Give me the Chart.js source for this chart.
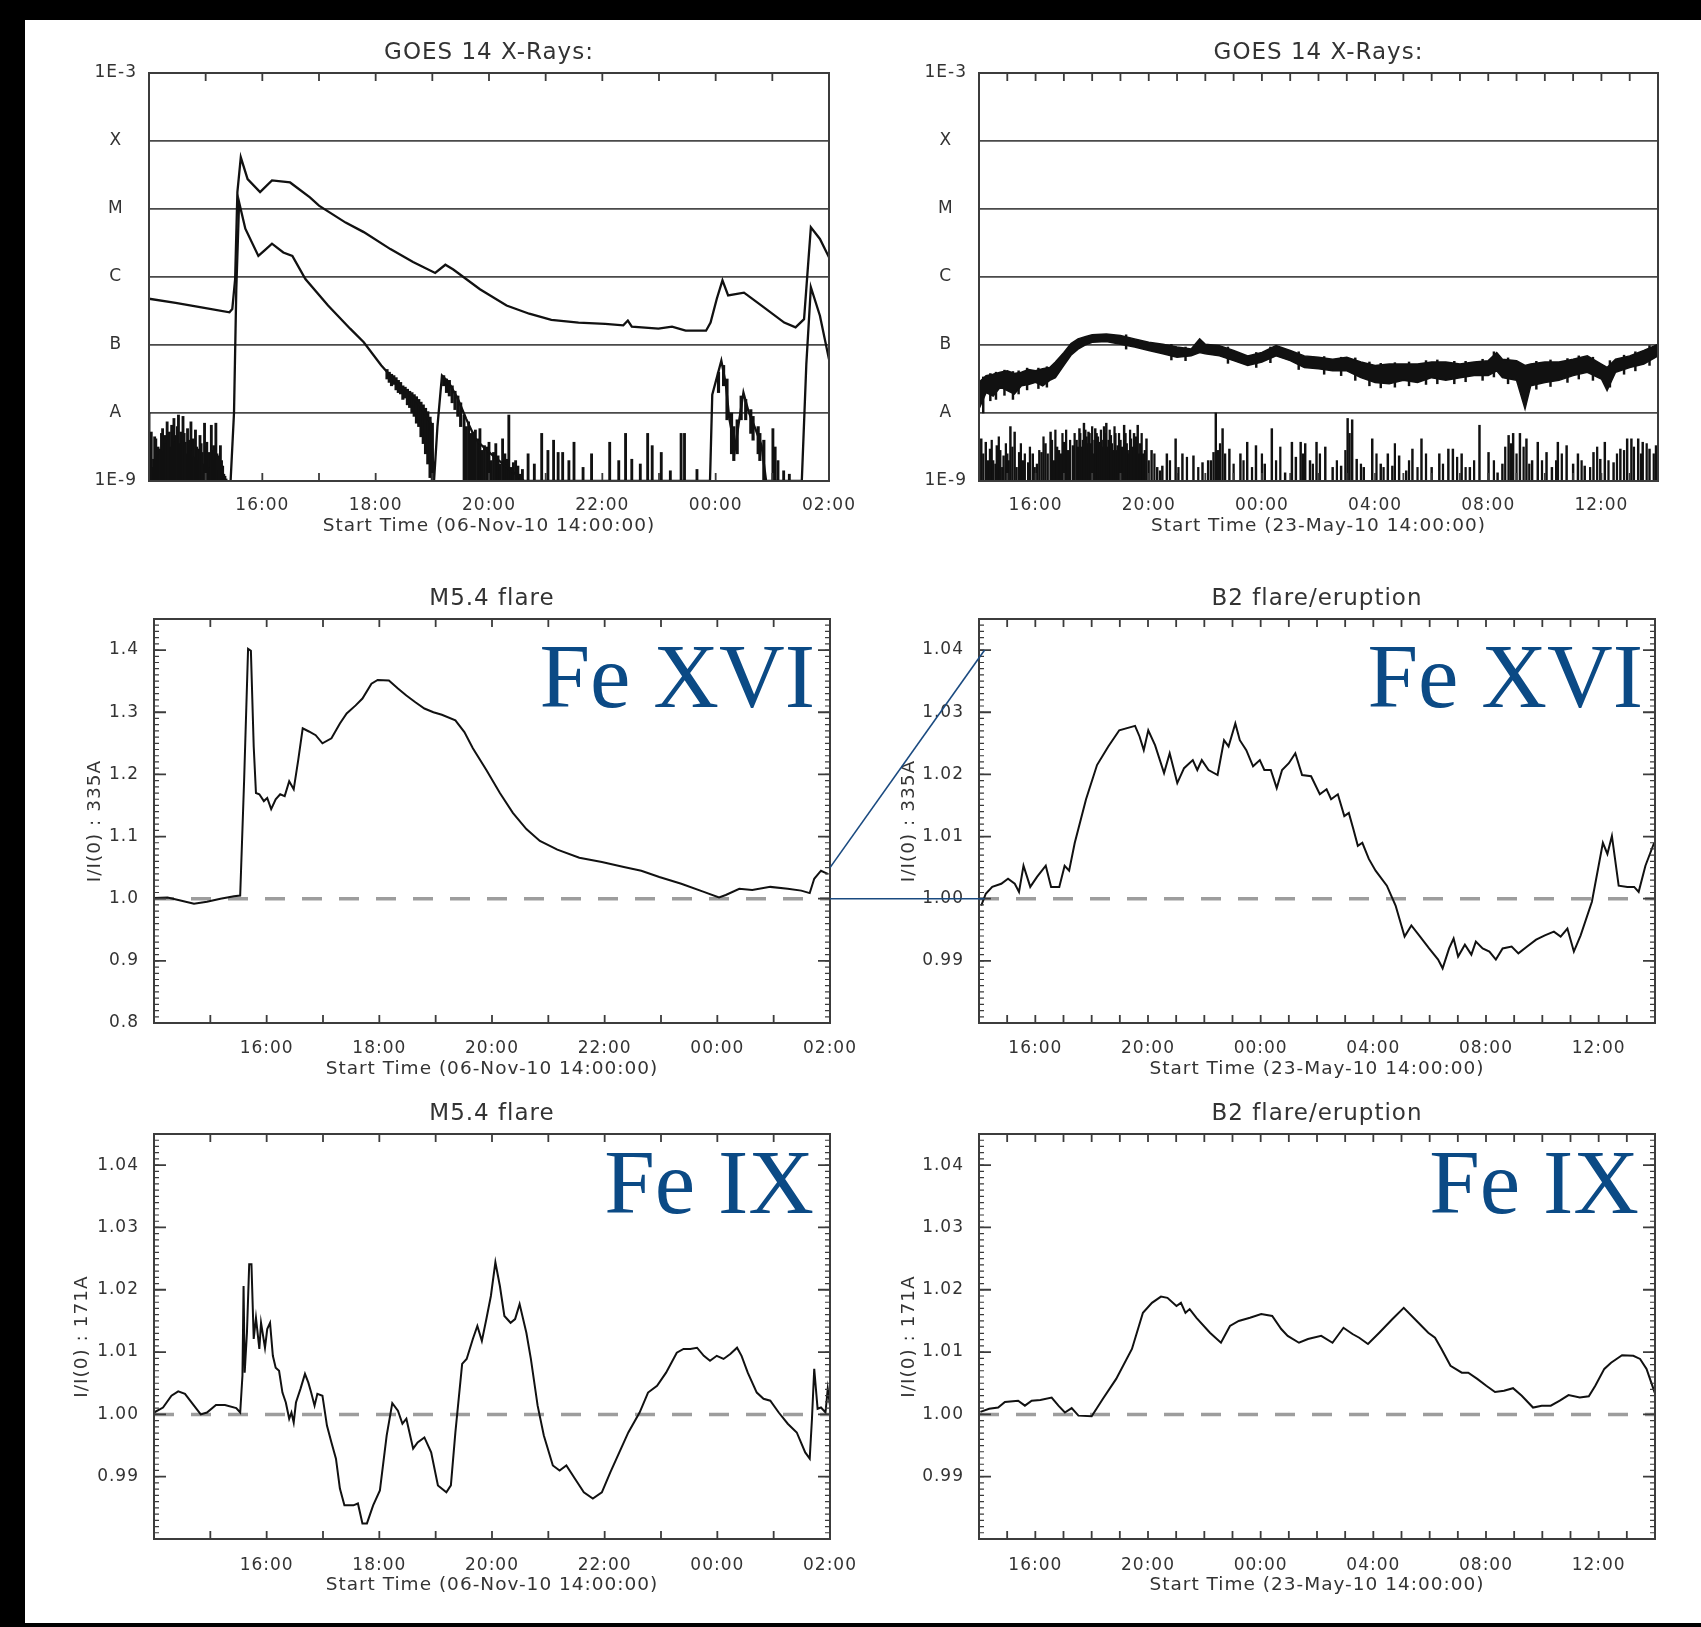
<!DOCTYPE html>
<html>
<head>
<meta charset="utf-8">
<script src="https://cdn.jsdelivr.net/npm/chart.js@4.4.1/dist/chart.umd.min.js"></script>
<style>
  html, body { margin: 0; padding: 0; background: #000; }
  body { width: 1701px; height: 1627px; position: relative; overflow: hidden; }
  #sheet { position: absolute; left: 25px; top: 20px; width: 1676px; height: 1603px; background: #fff; }
  canvas { position: absolute; }
  #links { position: absolute; left: 0; top: 0; width: 1701px; height: 1627px; pointer-events: none; }
</style>
</head>
<body>
<div id="sheet"></div>
<canvas id="goesNov"></canvas>
<canvas id="goesMay"></canvas>
<canvas id="fe16Nov"></canvas>
<canvas id="fe16May"></canvas>
<canvas id="fe9Nov"></canvas>
<canvas id="fe9May"></canvas>
<svg id="links"></svg>
<script>
// axis ticks / labels
const novTickHours = [2, 4, 6, 8, 10, 12];
const novTickLabels = ['16:00', '18:00', '20:00', '22:00', '00:00', '02:00'];
const mayTickHours = [2, 6, 10, 14, 18, 22];
const mayTickLabels = ['16:00', '20:00', '00:00', '04:00', '08:00', '12:00'];
const goesLevels = [-9, -8, -7, -6, -5, -4, -3];
const goesLabels = ['1E-9', 'A', 'B', 'C', 'M', 'X', '1E-3'];
const wideTicks = [0.8, 0.9, 1.0, 1.1, 1.2, 1.3, 1.4];
const wideLabels = ['0.8', '0.9', '1.0', '1.1', '1.2', '1.3', '1.4'];
const narrowTicks = [0.99, 1.00, 1.01, 1.02, 1.03, 1.04];
const narrowLabels = ['0.99', '1.00', '1.01', '1.02', '1.03', '1.04'];

// GOES 06-Nov-10, hours after 14:00, log10 flux (W/m2)
const novLongT = [0, 0.47, 0.95, 1.42, 1.47, 1.52, 1.56, 1.62, 1.74, 1.96, 2.17, 2.49, 2.84, 3.00, 3.47, 3.79, 4.26, 4.66, 5.05, 5.23, 5.37, 5.84, 6.31, 6.71, 7.10, 7.58, 8.05, 8.37, 8.45, 8.52, 8.99, 9.23, 9.47, 9.83, 9.91, 10.02, 10.12, 10.22, 10.50, 10.81, 11.21, 11.41, 11.56, 11.68, 11.84, 12.00];
const novLongV = [-6.32, -6.38, -6.45, -6.52, -6.47, -6.03, -4.75, -4.24, -4.56, -4.75, -4.58, -4.61, -4.83, -4.95, -5.20, -5.34, -5.59, -5.78, -5.94, -5.82, -5.89, -6.18, -6.42, -6.54, -6.63, -6.67, -6.69, -6.71, -6.64, -6.73, -6.76, -6.73, -6.79, -6.79, -6.67, -6.32, -6.05, -6.27, -6.23, -6.42, -6.67, -6.74, -6.62, -5.27, -5.44, -5.71];
const novShortT = [1.44, 1.50, 1.54, 1.59, 1.70, 1.93, 2.05, 2.17, 2.37, 2.53, 2.76, 3.16, 3.55, 3.79, 4.10, 4.42, 4.74, 4.97, 5.03, 5.09, 5.17, 5.29, 5.45, 5.60, 5.76, 5.90, 6.10, 6.40, 6.62, 9.90, 9.94, 10.10, 10.18, 10.24, 10.34, 10.42, 10.49, 10.58, 10.70, 10.81, 10.89, 11.52, 11.60, 11.68, 11.84, 12.00];
const novShortV = [-9.0, -8.0, -6.2, -4.90, -5.29, -5.69, -5.60, -5.51, -5.64, -5.69, -6.03, -6.42, -6.76, -6.96, -7.30, -7.60, -7.84, -8.14, -9.0, -8.2, -7.45, -7.55, -7.79, -8.09, -8.38, -8.50, -8.65, -8.85, -9.0, -9.0, -7.73, -7.23, -7.58, -8.08, -8.53, -8.08, -7.70, -7.98, -8.23, -8.48, -9.0, -9.0, -7.28, -6.15, -6.57, -7.21];
// short channel noise: spikes up from the 1E-9 floor
const novSpikeT = [0.00, 0.02, 0.04, 0.06, 0.08, 0.10, 0.12, 0.14, 0.16, 0.18, 0.20, 0.22, 0.24, 0.26, 0.28, 0.30, 0.32, 0.34, 0.36, 0.38, 0.40, 0.42, 0.44, 0.46, 0.48, 0.50, 0.52, 0.54, 0.56, 0.58, 0.60, 0.62, 0.64, 0.66, 0.68, 0.70, 0.72, 0.74, 0.76, 0.78, 0.80, 0.82, 0.84, 0.86, 0.88, 0.90, 0.92, 0.94, 0.96, 0.98, 1.00, 1.02, 1.04, 1.06, 1.08, 1.10, 1.12, 1.14, 1.16, 1.18, 1.20, 1.22, 1.24, 1.26, 1.28, 1.30, 1.32, 1.34, 1.36,
  5.56, 5.60, 5.64, 5.68, 5.72, 5.76, 5.80, 5.84, 5.88, 5.92, 5.96, 6.00, 6.04, 6.08, 6.12, 6.16, 6.20, 6.24, 6.28, 6.31, 6.35, 6.39, 6.43, 6.47, 6.51, 6.55, 6.59,
  6.69, 6.80, 6.93, 7.04, 7.14, 7.22, 7.30, 7.41, 7.50, 7.66, 7.81, 8.13, 8.29, 8.41, 8.52, 8.67, 8.80, 8.88, 9.04, 9.20, 9.39, 9.45, 9.67,
  11.01, 11.05, 11.10, 11.20, 11.30];
const novSpikeTop = [-8.00, -8.45, -8.28, -8.80, -8.68, -8.35, -8.38, -8.70, -8.50, -8.62, -8.53, -8.30, -8.23, -8.55, -8.33, -8.45, -8.13, -8.40, -8.28, -8.50, -8.18, -8.35, -8.08, -8.42, -8.33, -8.20, -8.03, -8.45, -8.28, -8.38, -8.05, -8.30, -8.43, -8.60, -8.23, -8.40, -8.48, -8.13, -8.55, -8.38, -8.65, -8.25, -8.50, -8.53, -8.70, -8.33, -8.45, -8.58, -8.75, -8.15, -8.50, -8.43, -8.65, -8.58, -8.80, -8.18, -8.55, -8.48, -8.70, -8.15, -8.60, -8.63, -8.85, -8.48, -8.70, -8.78, -8.90, -8.93, -8.97,
  -8.03, -8.20, -8.13, -8.30, -8.28, -8.25, -8.38, -8.23, -8.55, -8.48, -8.50, -8.43, -8.70, -8.58, -8.45, -8.63, -8.75, -8.38, -8.60, -8.68, -8.03, -8.80, -8.73, -8.70, -8.78, -8.90, -8.83,
  -8.60, -8.75, -8.30, -8.55, -8.40, -8.58, -8.58, -8.70, -8.43, -8.80, -8.60, -8.43, -8.70, -8.30, -8.68, -8.75, -8.30, -8.48, -8.58, -8.85, -8.30, -8.30, -8.83,
  -8.23, -8.50, -8.70, -8.85, -8.90];
// short channel jitter around the decaying parts (min / max per sample)
const novFuzzT = [4.20, 4.24, 4.28, 4.32, 4.36, 4.40, 4.44, 4.48, 4.52, 4.56, 4.60, 4.64, 4.68, 4.72, 4.76, 4.80, 4.84, 4.88, 4.92, 4.96, 5.00,
  5.20, 5.25, 5.30, 5.35, 5.40, 5.45, 5.50,
  10.05, 10.14, 10.20, 10.28, 10.32, 10.38, 10.45, 10.53, 10.62, 10.66, 10.75, 10.78, 10.85];
const novFuzzLo = [-7.50, -7.55, -7.60, -7.58, -7.66, -7.70, -7.72, -7.80, -7.78, -7.88, -7.92, -8.00, -8.05, -8.15, -8.20, -8.35, -8.45, -8.60, -8.75, -8.95, -9.0,
  -7.60, -7.70, -7.75, -7.85, -7.95, -8.05, -8.20,
  -7.70, -7.60, -8.10, -8.60, -8.70, -8.60, -8.10, -8.10, -8.30, -8.40, -8.60, -8.70, -9.0];
const novFuzzHi = [-7.36, -7.40, -7.43, -7.45, -7.48, -7.52, -7.55, -7.60, -7.62, -7.65, -7.68, -7.70, -7.73, -7.76, -7.80, -7.84, -7.88, -7.93, -7.98, -8.06, -8.15,
  -7.45, -7.50, -7.52, -7.60, -7.68, -7.75, -7.85,
  -7.40, -7.30, -7.50, -8.00, -8.20, -8.10, -7.75, -7.80, -7.95, -8.05, -8.20, -8.30, -8.40];

// GOES 23-May-10, hours after 14:00, log10 flux
const mayLongT = [0, 0.25, 0.5, 0.75, 1.0, 1.25, 1.5, 1.75, 2.0, 2.25, 2.5, 2.7, 3.0, 3.25, 3.5, 3.75, 4.0, 4.5, 5.0, 5.5, 6.0, 6.5, 7.0, 7.5, 7.8, 8.0, 8.5, 9.0, 9.5, 10.0, 10.5, 11.0, 11.5, 12.0, 12.5, 13.0, 13.5, 14.0, 14.5, 15.0, 15.5, 16.0, 16.5, 17.0, 17.5, 18.0, 18.3, 18.5, 19.0, 19.3, 19.5, 20.0, 20.5, 21.0, 21.5, 22.0, 22.2, 22.5, 23.0, 23.5, 24.0];
const mayLongHi = [-7.55, -7.45, -7.43, -7.40, -7.38, -7.42, -7.40, -7.36, -7.38, -7.35, -7.33, -7.25, -7.11, -6.98, -6.91, -6.88, -6.85, -6.84, -6.86, -6.91, -6.96, -6.99, -7.03, -7.06, -6.91, -6.99, -7.01, -7.08, -7.16, -7.11, -7.01, -7.08, -7.16, -7.18, -7.21, -7.18, -7.25, -7.30, -7.28, -7.28, -7.28, -7.25, -7.25, -7.28, -7.25, -7.23, -7.11, -7.21, -7.23, -7.30, -7.28, -7.25, -7.25, -7.21, -7.16, -7.28, -7.33, -7.21, -7.16, -7.08, -6.99];
const mayLongLo = [-7.94, -7.70, -7.75, -7.62, -7.67, -7.72, -7.60, -7.58, -7.55, -7.60, -7.52, -7.48, -7.30, -7.15, -7.06, -7.00, -6.96, -6.95, -6.99, -7.03, -7.08, -7.13, -7.18, -7.16, -7.11, -7.13, -7.16, -7.23, -7.30, -7.25, -7.16, -7.23, -7.33, -7.35, -7.38, -7.38, -7.48, -7.55, -7.57, -7.52, -7.55, -7.48, -7.52, -7.48, -7.45, -7.45, -7.38, -7.48, -7.52, -7.94, -7.60, -7.55, -7.52, -7.45, -7.40, -7.50, -7.67, -7.40, -7.33, -7.28, -7.16];
// long channel excursions just outside the band
const mayJitT = [0.15, 0.40, 0.60, 0.90, 1.20, 1.40, 1.70, 2.10, 2.40, 5.20, 6.80, 7.30, 8.80, 9.80, 10.30, 11.30, 12.20, 12.80, 13.30, 13.80, 14.20, 14.70, 15.20, 15.80, 16.20, 16.80, 17.20, 17.80, 18.20, 18.70, 19.70, 20.20, 20.80, 21.20, 21.70, 22.30, 22.80, 23.20, 23.70];
const mayJitLo = [-8.00, -7.82, -7.80, -7.74, -7.80, -7.72, -7.66, -7.64, -7.62, -7.06, -7.22, -7.23, -7.27, -7.33, -7.26, -7.36, -7.43, -7.45, -7.52, -7.60, -7.63, -7.62, -7.60, -7.58, -7.57, -7.57, -7.54, -7.52, -7.47, -7.57, -7.65, -7.61, -7.55, -7.50, -7.52, -7.62, -7.43, -7.38, -7.30];
const mayJitHi = [-7.47, -7.42, -7.40, -7.37, -7.39, -7.38, -7.34, -7.34, -7.32, -6.85, -6.99, -7.03, -7.03, -7.11, -7.03, -7.10, -7.17, -7.18, -7.19, -7.25, -7.27, -7.26, -7.25, -7.23, -7.22, -7.24, -7.24, -7.21, -7.10, -7.19, -7.24, -7.22, -7.20, -7.16, -7.18, -7.23, -7.15, -7.10, -7.01];
const maySpikeT = [0.08, 0.24, 0.39, 0.50, 0.63, 0.75, 0.87, 1.00, 1.11, 1.26, 1.42, 1.55, 1.74, 1.90, 2.05, 2.21, 2.35, 2.53, 2.65, 2.76, 2.90, 3.00, 3.15, 3.32, 3.45, 3.55, 3.62, 3.71, 3.80, 3.87, 3.95, 4.05, 4.11, 4.20, 4.27, 4.35, 4.42, 4.50, 4.58, 4.66, 4.75, 4.82, 4.90, 5.00, 5.13, 5.22, 5.30, 5.37, 5.48, 5.61, 5.70, 5.80, 5.92, 6.10, 6.30, 6.48, 6.64, 6.95, 7.19, 7.58, 7.90, 8.10, 8.29, 8.37, 8.45, 8.61, 8.85, 9.24, 9.48, 9.79, 10.10, 10.35, 10.82, 11.06, 11.20, 11.37, 11.53, 11.70, 11.93, 12.24, 12.50, 12.80, 13.03, 13.19, 13.35, 13.60, 13.90, 14.20, 14.45, 14.61, 14.85, 15.10, 15.32, 15.64, 16.00, 16.27, 16.59, 16.75, 17.06, 17.35, 17.69, 18.01, 18.33, 18.50, 18.72, 18.88, 19.12, 19.35, 19.55, 19.75, 20.06, 20.25, 20.46, 20.77, 21.00, 21.17, 21.41, 21.72, 21.96, 22.12, 22.43, 22.67, 22.91, 23.06, 23.30, 23.46, 23.70, 23.93];
const maySpikeTop = [-8.38, -8.43, -8.53, -8.70, -8.48, -8.55, -8.63, -8.60, -8.20, -8.28, -8.58, -8.70, -8.73, -8.60, -8.75, -8.58, -8.45, -8.28, -8.70, -8.50, -8.60, -8.43, -8.55, -8.48, -8.40, -8.23, -8.50, -8.15, -8.35, -8.28, -8.45, -8.60, -8.23, -8.35, -8.43, -8.50, -8.20, -8.15, -8.40, -8.33, -8.55, -8.30, -8.48, -8.40, -8.18, -8.45, -8.60, -8.38, -8.30, -8.18, -8.45, -8.60, -8.38, -8.55, -8.80, -8.78, -8.60, -8.38, -8.60, -8.63, -8.73, -8.70, -8.58, -8.00, -8.55, -8.23, -8.53, -8.60, -8.43, -8.48, -8.75, -8.23, -8.88, -8.43, -8.65, -8.43, -8.45, -8.70, -8.43, -8.50, -8.80, -8.78, -8.08, -8.10, -8.68, -8.80, -8.38, -8.75, -8.60, -8.78, -8.63, -8.85, -8.53, -8.38, -8.80, -8.60, -8.53, -8.53, -8.60, -8.80, -8.18, -8.58, -8.88, -8.75, -8.33, -8.30, -8.30, -8.38, -8.70, -8.43, -8.58, -8.80, -8.43, -8.48, -8.75, -8.60, -8.78, -8.58, -8.68, -8.43, -8.73, -8.53, -8.38, -8.38, -8.38, -8.43, -8.53, -8.48];
const maySpike2T = [0.15, 0.32, 0.45, 0.58, 0.70, 0.82, 0.95, 1.05, 1.18, 1.33,
  1.48, 1.62, 1.80, 1.97, 2.13, 2.28, 2.43, 2.58, 2.70, 2.83,
  2.95, 3.08, 3.22, 3.38, 3.50, 3.58, 3.67, 3.76, 3.84, 3.91,
  4.00, 4.08, 4.16, 4.24, 4.31, 4.39, 4.46, 4.54, 4.62, 4.70,
  4.79, 4.86, 4.95, 5.05, 5.18, 5.26, 5.34, 5.43, 5.55, 5.66,
  5.75, 5.86, 6.00, 6.20, 6.40, 6.75, 7.05, 7.35, 7.75, 8.20,
  8.52, 8.70, 9.00, 9.35, 9.65, 10.00, 10.50, 10.65, 11.45, 11.80,
  12.05, 12.65, 12.95, 13.10, 13.50, 14.05, 14.30, 14.70, 15.20, 15.50,
  15.80, 16.40, 16.90, 17.20, 17.50, 18.20, 18.60, 18.80, 19.00, 19.25,
  19.45, 19.90, 20.40, 20.60, 21.30, 21.60, 21.85, 22.25, 22.55, 22.80,
  23.15, 23.40, 23.60, 23.85];
const maySpike2Top = [-8.60, -8.70, -8.40, -8.75, -8.35, -8.80, -8.45, -8.70, -8.50, -8.80,
  -8.45, -8.60, -8.50, -8.80, -8.55, -8.35, -8.60, -8.40, -8.25, -8.55,
  -8.30, -8.25, -8.40, -8.30, -8.50, -8.30, -8.40, -8.25, -8.45, -8.30,
  -8.20, -8.40, -8.30, -8.55, -8.25, -8.40, -8.30, -8.50, -8.25, -8.45,
  -8.20, -8.55, -8.30, -8.50, -8.30, -8.55, -8.25, -8.50, -8.35, -8.60,
  -8.30, -8.55, -8.70, -8.60, -8.85, -8.70, -8.80, -8.65, -8.80, -8.70,
  -8.45, -8.60, -8.75, -8.70, -8.80, -8.60, -8.70, -8.50, -8.60, -8.75,
  -8.60, -8.70, -8.55, -8.30, -8.75, -8.60, -8.80, -8.45, -8.70, -8.80,
  -8.60, -8.75, -8.65, -8.80, -8.70, -8.70, -8.50, -8.45, -8.60, -8.50,
  -8.75, -8.70, -8.70, -8.60, -8.70, -8.80, -8.50, -8.70, -8.60, -8.55,
  -8.50, -8.60, -8.45, -8.60];

// AIA 335A (Fe XVI), I/I(0)
const fe16NovT = [0.00, 0.24, 0.47, 0.71, 0.94, 1.18, 1.42, 1.53, 1.60, 1.67, 1.72, 1.77, 1.81, 1.87, 1.95, 2.01, 2.08, 2.16, 2.24, 2.32, 2.40, 2.48, 2.56, 2.64, 2.75, 2.87, 2.99, 3.15, 3.30, 3.42, 3.58, 3.70, 3.86, 3.97, 4.17, 4.33, 4.48, 4.64, 4.80, 4.96, 5.11, 5.35, 5.51, 5.66, 5.90, 6.14, 6.37, 6.61, 6.85, 7.16, 7.55, 7.95, 8.34, 8.65, 8.97, 9.36, 9.76, 10.03, 10.15, 10.39, 10.62, 10.94, 11.25, 11.49, 11.64, 11.72, 11.84, 11.96];
const fe16NovV = [1.001, 1.002, 0.997, 0.992, 0.995, 1.000, 1.004, 1.005, 1.191, 1.402, 1.399, 1.245, 1.170, 1.168, 1.157, 1.162, 1.144, 1.160, 1.168, 1.165, 1.189, 1.176, 1.223, 1.274, 1.269, 1.263, 1.250, 1.258, 1.282, 1.298, 1.311, 1.322, 1.346, 1.352, 1.351, 1.338, 1.327, 1.316, 1.306, 1.300, 1.296, 1.287, 1.268, 1.242, 1.207, 1.170, 1.138, 1.112, 1.093, 1.079, 1.066, 1.059, 1.051, 1.045, 1.035, 1.024, 1.011, 1.002, 1.006, 1.016, 1.014, 1.019, 1.016, 1.013, 1.009, 1.032, 1.045, 1.040];
const fe16MayT = [0.08, 0.24, 0.47, 0.79, 1.03, 1.27, 1.42, 1.58, 1.82, 2.06, 2.37, 2.56, 2.85, 3.04, 3.20, 3.40, 3.80, 4.19, 4.59, 4.98, 5.54, 5.70, 5.85, 6.01, 6.25, 6.57, 6.77, 7.04, 7.28, 7.59, 7.75, 7.91, 8.15, 8.47, 8.70, 8.86, 9.10, 9.26, 9.49, 9.73, 9.97, 10.13, 10.36, 10.57, 10.76, 11.00, 11.23, 11.47, 11.79, 12.10, 12.34, 12.50, 12.74, 12.97, 13.13, 13.29, 13.45, 13.61, 13.84, 14.08, 14.48, 14.79, 15.11, 15.35, 15.66, 15.98, 16.30, 16.46, 16.69, 16.85, 17.01, 17.25, 17.48, 17.64, 17.88, 18.12, 18.35, 18.59, 18.91, 19.15, 19.46, 19.78, 20.09, 20.41, 20.65, 20.89, 21.12, 21.36, 21.76, 22.15, 22.31, 22.47, 22.71, 23.02, 23.26, 23.42, 23.66, 23.97];
const fe16MayV = [0.9989, 1.0008, 1.0019, 1.0024, 1.0032, 1.0024, 1.0011, 1.0053, 1.0019, 1.0035, 1.0053, 1.0019, 1.0019, 1.0053, 1.0045, 1.0090, 1.0160, 1.0215, 1.0245, 1.0271, 1.0278, 1.0261, 1.0239, 1.0271, 1.0247, 1.0202, 1.0234, 1.0186, 1.0210, 1.0223, 1.0207, 1.0223, 1.0207, 1.0199, 1.0255, 1.0245, 1.0282, 1.0255, 1.0239, 1.0213, 1.0223, 1.0207, 1.0207, 1.0178, 1.0207, 1.0218, 1.0234, 1.0199, 1.0197, 1.0168, 1.0176, 1.0160, 1.0168, 1.0133, 1.0138, 1.0112, 1.0085, 1.0090, 1.0064, 1.0045, 1.0021, 0.9989, 0.9939, 0.9957, 0.9939, 0.9920, 0.9902, 0.9888, 0.9920, 0.9936, 0.9907, 0.9926, 0.9910, 0.9931, 0.9920, 0.9915, 0.9902, 0.9920, 0.9923, 0.9912, 0.9923, 0.9934, 0.9941, 0.9947, 0.9939, 0.9952, 0.9915, 0.9941, 0.9995, 1.0090, 1.0072, 1.0101, 1.0021, 1.0019, 1.0019, 1.0011, 1.0053, 1.0090];

// AIA 171A (Fe IX), I/I(0)
const fe9NovT = [0.00, 0.16, 0.31, 0.43, 0.55, 0.71, 0.83, 0.94, 1.10, 1.26, 1.46, 1.53, 1.57, 1.59, 1.61, 1.65, 1.69, 1.73, 1.77, 1.81, 1.87, 1.90, 1.97, 2.01, 2.06, 2.11, 2.16, 2.22, 2.28, 2.34, 2.40, 2.44, 2.48, 2.52, 2.60, 2.68, 2.74, 2.79, 2.85, 2.90, 2.99, 3.07, 3.15, 3.23, 3.30, 3.38, 3.54, 3.62, 3.70, 3.78, 3.89, 4.01, 4.13, 4.23, 4.33, 4.41, 4.48, 4.60, 4.68, 4.80, 4.92, 5.04, 5.19, 5.27, 5.35, 5.47, 5.55, 5.66, 5.74, 5.82, 5.90, 5.98, 6.06, 6.14, 6.22, 6.33, 6.41, 6.49, 6.61, 6.69, 6.81, 6.92, 7.08, 7.20, 7.32, 7.47, 7.63, 7.79, 7.95, 8.10, 8.26, 8.42, 8.62, 8.77, 8.93, 9.09, 9.28, 9.40, 9.52, 9.64, 9.76, 9.87, 9.99, 10.11, 10.23, 10.35, 10.43, 10.54, 10.70, 10.82, 10.94, 11.09, 11.25, 11.41, 11.56, 11.64, 11.68, 11.72, 11.78, 11.84, 11.92, 11.96, 12.00];
const fe9NovV = [1.0003, 1.0011, 1.0030, 1.0037, 1.0033, 1.0014, 1.0000, 1.0003, 1.0015, 1.0015, 1.0010, 1.0003, 1.0062, 1.0206, 1.0067, 1.0131, 1.0241, 1.0241, 1.0121, 1.0155, 1.0105, 1.0147, 1.0107, 1.0137, 1.0147, 1.0094, 1.0075, 1.0070, 1.0035, 1.0019, 0.9993, 1.0003, 0.9987, 1.0019, 1.0041, 1.0065, 1.0051, 1.0035, 1.0014, 1.0033, 1.0030, 0.9982, 0.9955, 0.9929, 0.9881, 0.9854, 0.9854, 0.9857, 0.9825, 0.9825, 0.9854, 0.9878, 0.9966, 1.0018, 1.0006, 0.9985, 0.9993, 0.9945, 0.9955, 0.9963, 0.9939, 0.9886, 0.9875, 0.9886, 0.9971, 1.0081, 1.0089, 1.0121, 1.0142, 1.0118, 1.0153, 1.0190, 1.0244, 1.0206, 1.0158, 1.0147, 1.0153, 1.0177, 1.0131, 1.0089, 1.0014, 0.9966, 0.9918, 0.9910, 0.9918, 0.9897, 0.9875, 0.9865, 0.9875, 0.9907, 0.9939, 0.9971, 1.0003, 1.0035, 1.0046, 1.0067, 1.0099, 1.0105, 1.0105, 1.0107, 1.0094, 1.0086, 1.0094, 1.0089, 1.0097, 1.0107, 1.0094, 1.0067, 1.0035, 1.0025, 1.0022, 1.0003, 0.9985, 0.9971, 0.9939, 0.9929, 0.9993, 1.0073, 1.0009, 1.0011, 1.0003, 1.0041, 1.0014];
const fe9MayT = [0.05, 0.36, 0.68, 0.92, 1.39, 1.63, 1.87, 2.18, 2.58, 2.82, 3.05, 3.29, 3.53, 4.00, 4.40, 4.87, 5.43, 5.82, 6.14, 6.46, 6.69, 7.01, 7.17, 7.33, 7.48, 7.72, 8.20, 8.59, 8.91, 9.22, 9.62, 10.02, 10.41, 10.73, 10.96, 11.36, 11.68, 12.15, 12.55, 12.94, 13.26, 13.50, 13.81, 14.21, 14.68, 15.08, 15.47, 15.95, 16.19, 16.42, 16.74, 17.14, 17.37, 17.69, 18.01, 18.32, 18.64, 18.96, 19.27, 19.67, 19.98, 20.30, 20.62, 20.93, 21.33, 21.65, 21.88, 22.20, 22.44, 22.83, 23.23, 23.47, 23.70, 23.99];
const fe9MayV = [1.0004, 1.0009, 1.0011, 1.0020, 1.0022, 1.0014, 1.0022, 1.0023, 1.0027, 1.0014, 1.0003, 1.0010, 0.9998, 0.9997, 1.0025, 1.0057, 1.0105, 1.0163, 1.0179, 1.0189, 1.0187, 1.0174, 1.0179, 1.0163, 1.0169, 1.0155, 1.0131, 1.0115, 1.0142, 1.0150, 1.0155, 1.0161, 1.0158, 1.0137, 1.0126, 1.0115, 1.0121, 1.0126, 1.0115, 1.0139, 1.0129, 1.0123, 1.0113, 1.0131, 1.0153, 1.0171, 1.0153, 1.0131, 1.0123, 1.0105, 1.0078, 1.0067, 1.0067, 1.0057, 1.0046, 1.0036, 1.0038, 1.0042, 1.0030, 1.0011, 1.0014, 1.0014, 1.0022, 1.0031, 1.0027, 1.0029, 1.0046, 1.0073, 1.0083, 1.0095, 1.0094, 1.0089, 1.0073, 1.0035];

const INK = '#333';
const FAM = "'DejaVu Sans', sans-serif";
const TITLE_SIZE = 23, AXIS_TITLE_SIZE = 18.5, TICK_SIZE = 17;

function pairs(t, v) { return t.map((x, i) => ({ x, y: v[i] })); }
function spikes(t, top) { return t.map((x, i) => ({ x, y: [-9, top[i]] })); }
function bands(t, lo, hi) { return t.map((x, i) => ({ x, y: [lo[i], hi[i]] })); }

function lineSet(data, extra) {
  return Object.assign({ type: 'line', data, borderColor: '#111', borderWidth: 2, pointRadius: 0, tension: 0, fill: false, order: 1 }, extra || {});
}
function barSet(data, w) {
  return { type: 'bar', data, backgroundColor: '#111', borderWidth: 0, barThickness: w, grouped: false, order: 3 };
}
function unityLine(span) {
  return lineSet([{ x: 0, y: 1 }, { x: span, y: 1 }], { borderColor: '#9d9d9d', borderWidth: 3.5, borderDash: [20, 17], order: 5 });
}
function steps(from, to, step) {
  const out = [];
  const n = Math.round((to - from) / step);
  for (let i = 0; i <= n; i++) out.push(+(from + i * step).toFixed(4));
  return out;
}

// IDL style box: inward ticks on all four sides, plus the big ion label
function idlFrame(cfg) {
  return {
    id: 'idlFrame',
    beforeUpdate(c) { c.ctx.letterSpacing = '1px'; },
    beforeDraw(c) { c.ctx.letterSpacing = '1px'; },
    afterDatasetsDraw(c) {
      const { ctx, chartArea: a } = c;
      const xs = c.scales.x, ys = c.scales.y;
      ctx.save();
      ctx.strokeStyle = '#3c3c3c';
      ctx.lineWidth = 1.8;
      ctx.beginPath();
      for (let h = 0; h <= cfg.span; h++) {
        const px = xs.getPixelForValue(h);
        ctx.moveTo(px, a.bottom); ctx.lineTo(px, a.bottom - 8);
        ctx.moveTo(px, a.top); ctx.lineTo(px, a.top + 8);
      }
      ctx.stroke();
      if (cfg.minorStep) {
        ctx.lineWidth = 1.2;
        ctx.beginPath();
        steps(cfg.yMin, cfg.yMax, cfg.minorStep).forEach(v => {
          const py = ys.getPixelForValue(v);
          ctx.moveTo(a.left, py); ctx.lineTo(a.left + 5, py);
          ctx.moveTo(a.right, py); ctx.lineTo(a.right - 5, py);
        });
        ctx.stroke();
        ctx.lineWidth = 1.8;
        ctx.beginPath();
        cfg.yTicks.forEach(v => {
          const py = ys.getPixelForValue(v);
          ctx.moveTo(a.left, py); ctx.lineTo(a.left + 12, py);
          ctx.moveTo(a.right, py); ctx.lineTo(a.right - 12, py);
        });
        ctx.stroke();
      }
      ctx.lineWidth = 2;
      ctx.strokeRect(a.left, a.top, a.width, a.height);
      if (cfg.ion) {
        ctx.letterSpacing = '0px';
        ctx.font = "91px 'Liberation Serif', serif";
        ctx.fillStyle = '#0b4a85';
        ctx.textAlign = 'right';
        ctx.textBaseline = 'alphabetic';
        ctx.fillText(cfg.ion.text, a.right - cfg.ion.inset, a.top + cfg.ion.drop);
      }
      ctx.restore();
    }
  };
}

function panel(id, box, cfg) {
  const lhT = TITLE_SIZE * 1.2, lhX = AXIS_TITLE_SIZE * 1.2, lhY = AXIS_TITLE_SIZE * 1.2;
  const [L, T, R, B] = box.plot;
  const cLeft = Math.round(box.yTitleX ? box.yTitleX - lhY / 2 : L - 75);
  const cTop = Math.round(box.titleY - lhT / 2 - 6);
  const cw = Math.round(R + 50 - cLeft);
  const ch = Math.round(box.xTitleY + lhX / 2 - cTop);
  const padR = cLeft + cw - R;
  const xH = cTop + ch - B;
  const yW = L - cLeft;
  const tBottom = T - cTop - 6 - lhT;

  const cv = document.getElementById(id);
  cv.width = cw; cv.height = ch;
  cv.style.left = cLeft + 'px'; cv.style.top = cTop + 'px';

  const tickFont = { family: FAM, size: TICK_SIZE };
  return new Chart(cv, {
    type: 'line',
    data: { datasets: cfg.datasets },
    options: {
      responsive: false,
      animation: false,
      devicePixelRatio: 1,
      layout: { padding: { left: 0, top: 0, right: padR, bottom: 0 } },
      plugins: {
        legend: { display: false },
        tooltip: { enabled: false },
        title: {
          display: true, text: cfg.title, fullSize: false, color: INK,
          font: { family: FAM, size: TITLE_SIZE, weight: 'normal' },
          padding: { top: 6, bottom: tBottom }
        }
      },
      scales: {
        x: {
          type: 'linear', min: 0, max: cfg.span, offset: false,
          grid: { display: false }, border: { display: false },
          afterBuildTicks: s => { s.ticks = cfg.xTickHours.map(v => ({ value: v })); },
          ticks: { autoSkip: false, maxRotation: 0, padding: box.xPad, color: INK, font: tickFont,
                   callback: (v, i) => cfg.xTickLabels[i] },
          title: { display: true, text: cfg.xTitle, color: INK, font: { family: FAM, size: AXIS_TITLE_SIZE }, padding: 0 },
          afterFit: s => { s.height = xH; }
        },
        y: {
          type: 'linear', min: cfg.yMin, max: cfg.yMax,
          grid: cfg.goes ? { color: '#4a4a4a', lineWidth: 1.8, drawTicks: false } : { display: false },
          border: { display: false },
          afterBuildTicks: s => { s.ticks = cfg.yTicks.map(v => ({ value: v })); },
          ticks: { autoSkip: false, color: INK, font: tickFont,
                   crossAlign: cfg.goes ? 'center' : 'near', padding: cfg.goes ? 12 : 7,
                   callback: (v, i) => cfg.yLabels[i] },
          title: { display: !!cfg.yTitle, text: cfg.yTitle || '', color: INK, font: { family: FAM, size: AXIS_TITLE_SIZE }, padding: 0 },
          afterFit: s => { s.width = yW; }
        }
      }
    },
    plugins: [idlFrame(cfg)]
  });
}

const novTitle = 'Start Time (06-Nov-10 14:00:00)';
const mayTitle = 'Start Time (23-May-10 14:00:00)';

panel('goesNov', { plot: [149, 73, 829, 481], titleY: 53, xTitleY: 526, xPad: 6 }, {
  title: 'GOES 14 X-Rays:', xTitle: novTitle, span: 12, xTickHours: novTickHours, xTickLabels: novTickLabels,
  yMin: -9, yMax: -3, yTicks: goesLevels, yLabels: goesLabels, goes: true,
  datasets: [
    lineSet(pairs(novLongT, novLongV), { borderWidth: 2.3 }),
    lineSet(pairs(novShortT, novShortV), { borderWidth: 2.3 }),
    barSet(spikes(novSpikeT, novSpikeTop), 2.2),
    barSet(bands(novFuzzT, novFuzzLo, novFuzzHi), 2.5)
  ]
});

panel('goesMay', { plot: [979, 73, 1658, 481], titleY: 53, xTitleY: 526, xPad: 6 }, {
  title: 'GOES 14 X-Rays:', xTitle: mayTitle, span: 24, xTickHours: mayTickHours, xTickLabels: mayTickLabels,
  yMin: -9, yMax: -3, yTicks: goesLevels, yLabels: goesLabels, goes: true,
  datasets: [
    lineSet(pairs(mayLongT, mayLongHi), { borderWidth: 1.5 }),
    lineSet(pairs(mayLongT, mayLongLo), { borderWidth: 1.5, fill: '-1', backgroundColor: '#111' }),
    barSet(bands(mayJitT, mayJitLo, mayJitHi), 1.8),
    barSet(spikes(maySpikeT, maySpikeTop), 1.8),
    barSet(spikes(maySpike2T, maySpike2Top), 1.6)
  ]
});

const fe16Nov = panel('fe16Nov', { plot: [154, 619, 830, 1023], titleY: 599, xTitleY: 1069, xPad: 7, yTitleX: 95.5 }, {
  title: 'M5.4 flare', xTitle: novTitle, span: 12, xTickHours: novTickHours, xTickLabels: novTickLabels,
  yMin: 0.8, yMax: 1.45, yTicks: wideTicks, yLabels: wideLabels, minorStep: 0.01, yTitle: 'I/I(0) : 335A',
  ion: { text: 'Fe XVI', inset: 15, drop: 88 },
  datasets: [lineSet(pairs(fe16NovT, fe16NovV)), unityLine(12)]
});

const fe16May = panel('fe16May', { plot: [979, 619, 1655, 1023], titleY: 599, xTitleY: 1069, xPad: 7, yTitleX: 909 }, {
  title: 'B2 flare/eruption', xTitle: mayTitle, span: 24, xTickHours: mayTickHours, xTickLabels: mayTickLabels,
  yMin: 0.98, yMax: 1.045, yTicks: narrowTicks, yLabels: narrowLabels, minorStep: 0.001, yTitle: 'I/I(0) : 335A',
  ion: { text: 'Fe XVI', inset: 12, drop: 88 },
  datasets: [lineSet(pairs(fe16MayT, fe16MayV)), unityLine(24)]
});

panel('fe9Nov', { plot: [154, 1134, 830, 1539], titleY: 1114, xTitleY: 1585, xPad: 8, yTitleX: 82.5 }, {
  title: 'M5.4 flare', xTitle: novTitle, span: 12, xTickHours: novTickHours, xTickLabels: novTickLabels,
  yMin: 0.98, yMax: 1.045, yTicks: narrowTicks, yLabels: narrowLabels, minorStep: 0.001, yTitle: 'I/I(0) : 171A',
  ion: { text: 'Fe IX', inset: 16, drop: 79 },
  datasets: [lineSet(pairs(fe9NovT, fe9NovV)), unityLine(12)]
});

panel('fe9May', { plot: [979, 1134, 1655, 1539], titleY: 1114, xTitleY: 1585, xPad: 8, yTitleX: 909 }, {
  title: 'B2 flare/eruption', xTitle: mayTitle, span: 24, xTickHours: mayTickHours, xTickLabels: mayTickLabels,
  yMin: 0.98, yMax: 1.045, yTicks: narrowTicks, yLabels: narrowLabels, minorStep: 0.001, yTitle: 'I/I(0) : 171A',
  ion: { text: 'Fe IX', inset: 16, drop: 79 },
  datasets: [lineSet(pairs(fe9MayT, fe9MayV)), unityLine(24)]
});

// zoom connector between the two Fe XVI panels, placed through the chart scales
function pagePoint(chart, x, y) {
  const cv = chart.canvas;
  return [parseFloat(cv.style.left) + chart.scales.x.getPixelForValue(x),
          parseFloat(cv.style.top) + chart.scales.y.getPixelForValue(y)];
}
const svg = document.getElementById('links');
[[pagePoint(fe16Nov, 12, 1.05), pagePoint(fe16May, 0.2, 1.04)],
 [pagePoint(fe16Nov, 12, 1.0), pagePoint(fe16May, 0.2, 1.0)]].forEach(([p, q]) => {
  const ln = document.createElementNS('http://www.w3.org/2000/svg', 'line');
  ln.setAttribute('x1', p[0]); ln.setAttribute('y1', p[1]);
  ln.setAttribute('x2', q[0]); ln.setAttribute('y2', q[1]);
  ln.setAttribute('stroke', '#1a4a80'); ln.setAttribute('stroke-width', '1.6');
  svg.appendChild(ln);
});
</script>
</body>
</html>
